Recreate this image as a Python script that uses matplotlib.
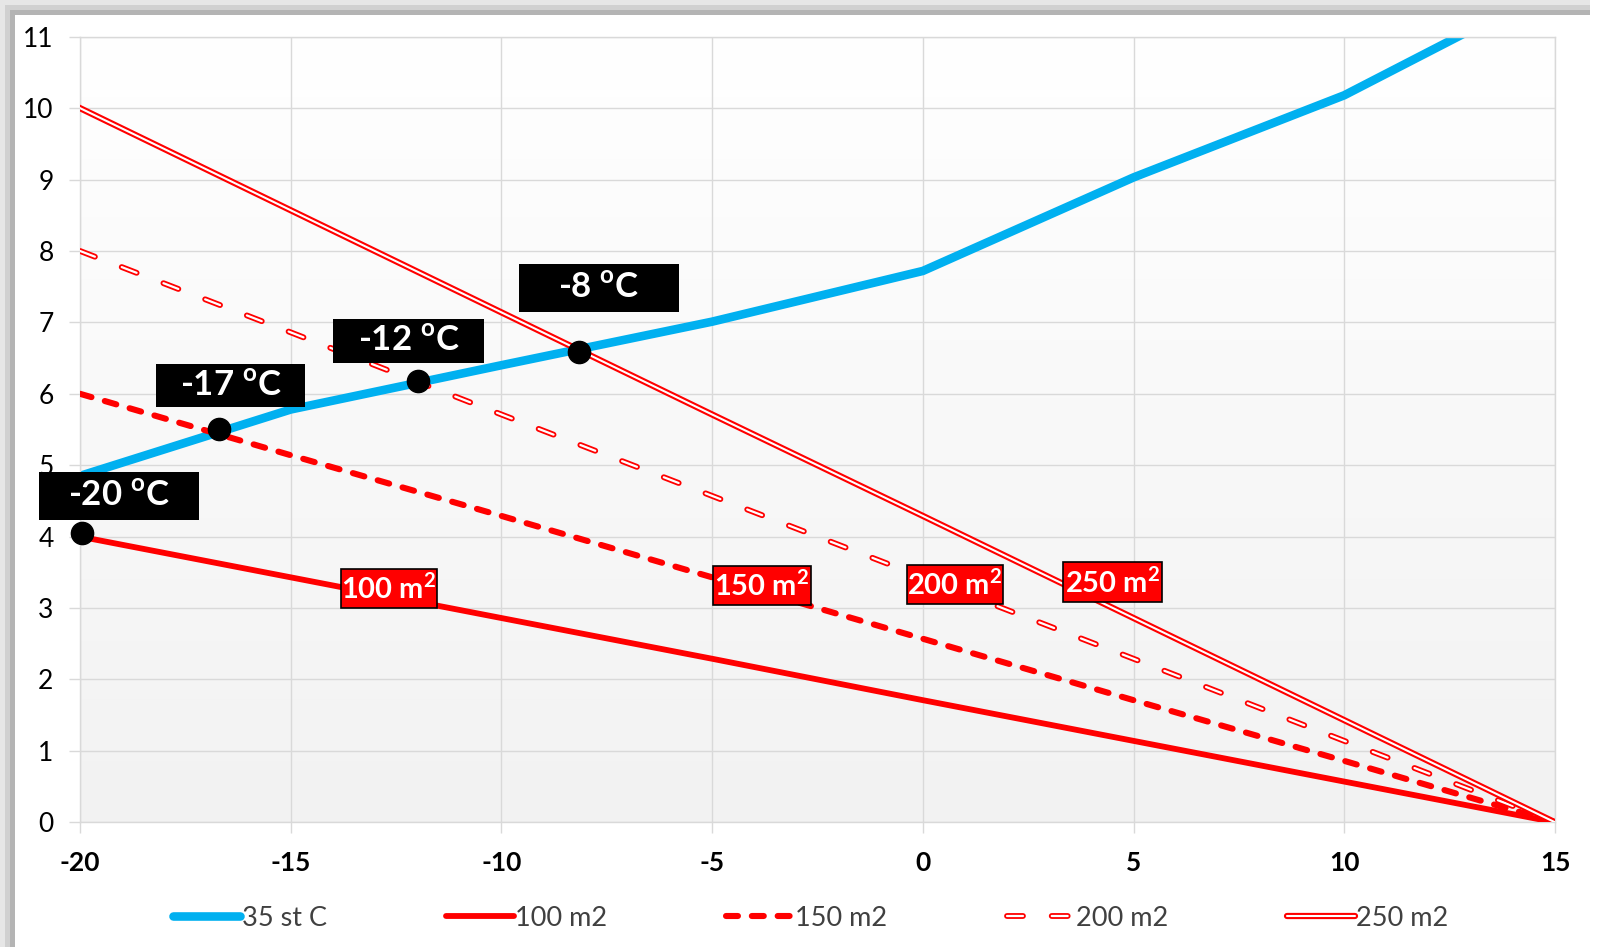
import numpy as np
import matplotlib
matplotlib.use("Agg")
from matplotlib import pyplot as plt
from matplotlib.patches import Rectangle
from matplotlib.lines import Line2D
from matplotlib.legend_handler import HandlerTuple
from matplotlib.colors import LinearSegmentedColormap

plt.rcParams['font.family'] = ['Lato', 'DejaVu Sans']
plt.rcParams['mathtext.fontset'] = 'custom'
plt.rcParams['mathtext.rm'] = 'Lato'
plt.rcParams['mathtext.bf'] = 'Lato:bold'
plt.rcParams['lines.scale_dashes'] = False
plt.rcParams['axes.unicode_minus'] = False

# data
temps = [-20, -15, -10, -5, 0, 5, 10, 15]
st35 = [4.85, 5.78, 6.40, 7.01, 7.72, 9.03, 10.18, 11.70]
m100 = [4.00, 3.43, 2.86, 2.29, 1.71, 1.14, 0.57, 0.00]
m150 = [6.00, 5.14, 4.29, 3.43, 2.57, 1.71, 0.86, 0.00]
m200 = [8.00, 6.86, 5.71, 4.57, 3.43, 2.29, 1.14, 0.00]
m250 = [10.00, 8.57, 7.14, 5.71, 4.29, 2.86, 1.43, 0.00]

cross_x = [-19.95, -16.70, -11.98, -8.16]
cross_y = [4.05, 5.51, 6.18, 6.59]
cross_lbl = ['-20', '-17', '-12', '-8']

area_lbl = ['100', '150', '200', '250']

series_names = ['35 st C', '100 m2', '150 m2', '200 m2', '250 m2']

x_ticks = [-20, -15, -10, -5, 0, 5, 10, 15]
y_ticks = list(range(0, 12))

# label placement (data coords: center x, center y, width, height)
cross_box = [(-19.07, 4.57, 3.80, 0.67), (-16.43, 6.12, 3.54, 0.60),
             (-12.20, 6.74, 3.58, 0.62), (-7.68, 7.48, 3.80, 0.67)]
area_box = [(-12.67, 3.27, 2.28, 0.55), (-3.82, 3.32, 2.33, 0.55),
            (0.76, 3.33, 2.28, 0.55), (4.50, 3.36, 2.35, 0.56)]

BLUE = '#00B0F0'
RED = '#FF0000'
GRID = '#D9D9D9'

W, H = 1605, 947
fig = plt.figure(figsize=(W / 100, H / 100), dpi=100)
fig.patch.set_facecolor('white')

# shadow frame on top and left
for x0, c in [(0, '#E6E6E6'), (5, '#D0D0D0'), (10, '#B4B4B4')]:
    fig.add_artist(Rectangle((x0 / W, 0), 5 / W, 1 - x0 / H, transform=fig.transFigure,
                             facecolor=c, edgecolor='none'))
    fig.add_artist(Rectangle((x0 / W, 1 - (x0 + 5) / H), (1590 - x0) / W, 5 / H,
                             transform=fig.transFigure, facecolor=c, edgecolor='none'))

ax = fig.add_axes([80 / W, 1 - 822.3 / H, 1475 / W, (822.3 - 36.7) / H])

grad = LinearSegmentedColormap.from_list('bg', ['#F2F2F2', '#FFFFFF'])
ax.imshow(np.linspace(0, 1, 256).reshape(-1, 1), cmap=grad, aspect='auto',
          extent=[0, 1, 0, 1], transform=ax.transAxes, zorder=0, origin='lower')

d150 = (8.6, 10)
d200 = (11.5, 20.7)
ax.plot(temps, st35, color=BLUE, lw=6.2, solid_capstyle='butt', zorder=2)
ax.plot(temps, m100, color=RED, lw=4.2, zorder=3)
ax.plot(temps, m150, color=RED, lw=4.4, dashes=d150, dash_capstyle='round', zorder=3)
ax.plot(temps, m200, color=RED, lw=4.2, dashes=d200, dash_capstyle='round', zorder=3)
ax.plot(temps, m200, color='white', lw=1.6, dashes=d200, dash_capstyle='round', zorder=3)
ax.plot(temps, m250, color=RED, lw=4.5, zorder=3)
ax.plot(temps, m250, color='white', lw=1.5, zorder=3)

ax.plot(cross_x, cross_y, 'o', color='black', ms=16, zorder=5, clip_on=False)

for (cx, cy, bw, bh), t in zip(cross_box, cross_lbl):
    ax.add_patch(Rectangle((cx - bw / 2, cy - bh / 2), bw, bh, facecolor='black',
                           edgecolor='none', zorder=6, clip_on=False))
    ax.text(cx, cy, t + r' $^{\mathbf{o}}$C', color='white', fontsize=25, fontweight='bold',
            ha='center', va='center', zorder=7, clip_on=False)

for (cx, cy, bw, bh), t in zip(area_box, area_lbl):
    ax.add_patch(Rectangle((cx - bw / 2, cy - bh / 2), bw, bh, facecolor=RED,
                           edgecolor='black', lw=1.2, zorder=6, clip_on=False))
    ax.text(cx, cy, t + r' m$^{\mathbf{2}}$', color='white', fontsize=21, fontweight='bold',
            ha='center', va='center', zorder=7, clip_on=False)

ax.set_xlim(-20, 15)
ax.set_ylim(0, 11)
ax.set_xticks(x_ticks)
ax.set_yticks(y_ticks)
ax.grid(True, color=GRID, lw=1)
ax.set_axisbelow(True)
for s in ax.spines.values():
    s.set_color(GRID)
    s.set_linewidth(1)
ax.tick_params(axis='both', color=GRID, length=8, width=1)
ax.tick_params(axis='x', labelsize=19, pad=13)
ax.tick_params(axis='y', labelsize=19, pad=11)
for lab in ax.get_xticklabels():
    lab.set_fontweight('bold')

# legend
h_blue = Line2D([], [], color=BLUE, lw=6.2, solid_capstyle='round')
h100 = Line2D([], [], color=RED, lw=4.2, solid_capstyle='round')
h150 = Line2D([], [], color=RED, lw=4.4, dashes=d150, dash_capstyle='round')
h200 = (Line2D([], [], color=RED, lw=4.2, dashes=d200, dash_capstyle='round'),
        Line2D([], [], color='white', lw=1.6, dashes=d200, dash_capstyle='round'))
h250 = (Line2D([], [], color=RED, lw=4.5, solid_capstyle='round'),
        Line2D([], [], color='white', lw=1.5, solid_capstyle='round'))
fig.legend([h_blue, h100, h150, h200, h250], series_names, ncol=5, loc='center',
           bbox_to_anchor=(0.505, 1 - 918 / H), frameon=False, fontsize=19.5,
           handlelength=2.5, handletextpad=0.05, columnspacing=4.4, labelcolor='#404040',
           handler_map={tuple: HandlerTuple(ndivide=1, pad=0)})

fig.savefig('out.png', dpi=100)
